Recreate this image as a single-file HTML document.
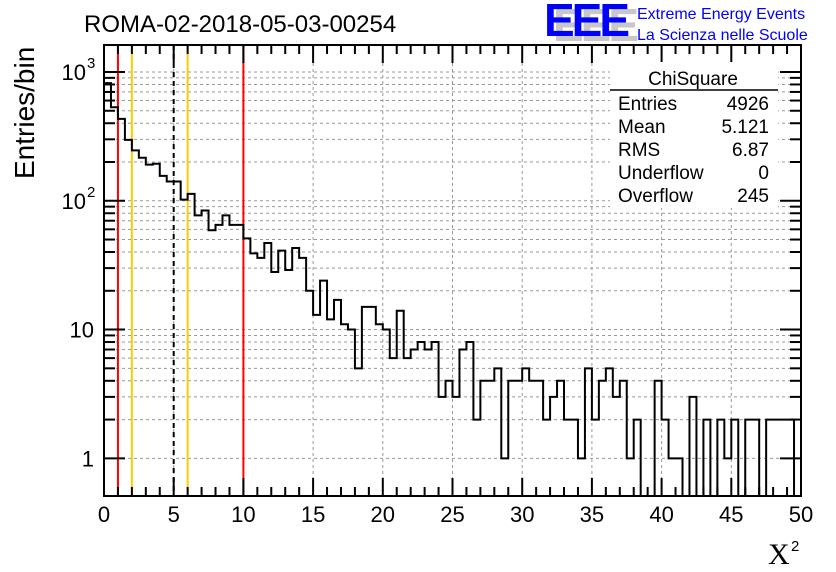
<!DOCTYPE html>
<html><head><meta charset="utf-8"><style>
body{margin:0;background:#fff;}
svg{display:block;font-family:"Liberation Sans",sans-serif;}
</style></head><body>
<svg id="c" width="836" height="572" viewBox="0 0 836 572"></svg>
<script>
const binWidth = 0.5;
const counts = [820,532,432,297,246,216,191,194,156,141,141,102,113,77,84,59,65,77,65,65,
51,39,36,47,28,41,29,43,36,20,13,24,12,17,11,10,5,15,15,11,
10,6,14,6,7,8,7,8,3,4,3,7,8,2,4,4,5,1,4,4,
5,4,4,2,3,4,2,2,1,5,2,4,5,3,4,1,2,0,0,4,
2,1,1,0,3,0,2,0,2,1,2,0,2,2,0,2,2,2,2,0];
const xTicks = [0,5,10,15,20,25,30,35,40,45,50];
const yDecades = [1,10,100,1000];
const cutLines = [{x:1,c:'#ff0000',d:''},{x:2,c:'#ffcc00',d:''},{x:5,c:'#000',d:'5,4'},{x:6,c:'#ffcc00',d:''},{x:10,c:'#ff0000',d:''}];
const statLabels = ['Entries','Mean','RMS','Underflow','Overflow'];
const statValues = ['4926','5.121','6.87','0','245'];

const L=104,R=801,T=45,B=496;
const ymin=0.51, ymax=1620;
const X=v=>L+(v-0)/(50-0)*(R-L);
const Y=v=>B-(Math.log10(v)-Math.log10(ymin))/(Math.log10(ymax)-Math.log10(ymin))*(B-T);
const svg=document.getElementById('c');
const NS='http://www.w3.org/2000/svg';
function mk(tag,a,parent){const e=document.createElementNS(NS,tag);for(const k in a)e.setAttribute(k,a[k]);(parent||svg).appendChild(e);return e;}

const grid=mk('g',{});


xTicks.forEach(t=>{if(t>0&&t<50)mk('line',{x1:X(t),x2:X(t),y1:T,y2:B,stroke:'#999','stroke-dasharray':'3,3','stroke-width':1},grid);});
yDecades.forEach(d=>{for(let m=1;m<10;m++){const v=d*m;if(v<ymin||v>ymax)continue;mk('line',{x1:L,x2:R,y1:Y(v),y2:Y(v),stroke:'#999','stroke-dasharray':'3,3','stroke-width':1},grid);}});

cutLines.forEach(c=>{const l=mk('line',{x1:X(c.x),x2:X(c.x),y1:T,y2:B,stroke:c.c,'stroke-width':2,'stroke-dasharray':c.d});

});

let d='';let prev=null;
counts.forEach((v,i)=>{const x0=X(i*binWidth),x1=X((i+1)*binWidth);const y=v>0?Math.min(B,Y(v)):B;
if(prev===null)d+=`M${x0},${y}`;else d+=`L${x0},${y}`;d+=`L${x1},${y}`;prev=y;});
const h=mk('path',{d:d,fill:'none',stroke:'#000','stroke-width':2});



const fr=mk('rect',{x:L,y:T,width:R-L,height:B-T,fill:'none',stroke:'#000','stroke-width':2});



for(let t=0;t<=50;t++){const maj=t%5===0;const len=maj?18:9;
mk('line',{x1:X(t),x2:X(t),y1:B,y2:B-len,stroke:'#000','stroke-width':2});
mk('line',{x1:X(t),x2:X(t),y1:T,y2:T+len,stroke:'#000','stroke-width':2});}
xTicks.forEach(t=>{const tx=mk('text',{x:X(t),y:522,'font-size':22,'text-anchor':'middle'});tx.textContent=t;

});

yDecades.forEach(dd=>{for(let m=1;m<10;m++){const v=dd*m;if(v<ymin||v>ymax)continue;const len=m===1?21:11;
mk('line',{x1:L,x2:L+len,y1:Y(v),y2:Y(v),stroke:'#000','stroke-width':2});
mk('line',{x1:R,x2:R-len,y1:Y(v),y2:Y(v),stroke:'#000','stroke-width':2});}});
[[1,'1',''],[10,'10',''],[100,'10','2'],[1000,'10','3']].forEach(([v,b,e])=>{
const tx=mk('text',{x:e?86:94,y:Y(v)+8,'font-size':22,'text-anchor':'end'});tx.textContent=b;


if(e){const s=mk('text',{x:87,y:Y(v)-4,'font-size':15});s.textContent=e;}});

const ti=mk('text',{x:84,y:32,'font-size':24});ti.textContent='ROMA-02-2018-05-03-00254';


const yt=mk('text',{x:34,y:179,'font-size':28,transform:'rotate(-90 34 179)'});yt.textContent='Entries/bin';


const xt=mk('text',{x:768,y:564,'font-size':30,'font-family':'Liberation Serif'});xt.textContent='X';


const xs=mk('text',{x:791,y:551,'font-size':15});xs.textContent='2';

const lg=mk('g',{});


const sh=mk('text',{x:553,y:41,'font-size':46,'font-weight':'bold',fill:'#c8c8c8','letter-spacing':'-3'},lg);sh.textContent='EEE';
const lo=mk('text',{x:544,y:36,'font-size':46,'font-weight':'bold',fill:'#0000ff','letter-spacing':'-3'},lg);lo.textContent='EEE';
const l1=mk('text',{x:637,y:19,'font-size':16,fill:'#0000ff'},lg);l1.textContent='Extreme Energy Events';
const l2=mk('text',{x:637,y:40,'font-size':16,fill:'#0000ff'},lg);l2.textContent='La Scienza nelle Scuole';

const st=mk('g',{});


mk('rect',{x:610,y:62,width:168,height:146,fill:'#fff'},st);
const stt=mk('text',{x:693,y:85,'font-size':19,'text-anchor':'middle'},st);stt.textContent='ChiSquare';
mk('line',{x1:610,x2:778,y1:90,y2:90,stroke:'#000','stroke-width':1.5},st);
statLabels.forEach((lab,i)=>{const y=110+i*23;
const a=mk('text',{x:618,y:y,'font-size':19},st);a.textContent=lab;
const b=mk('text',{x:769,y:y,'font-size':19,'text-anchor':'end'},st);b.textContent=statValues[i];});
</script>
</body></html>
